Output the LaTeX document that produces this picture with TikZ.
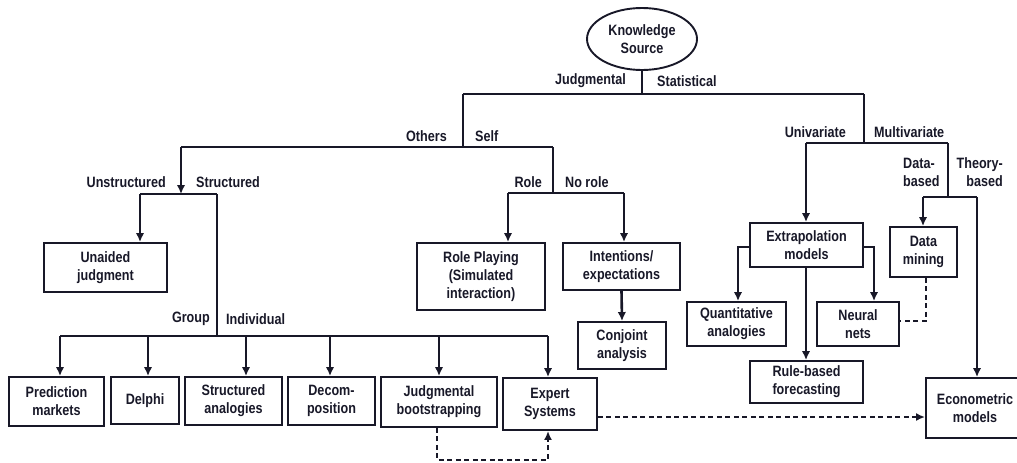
\documentclass[tikz,border=0pt]{standalone}
\usepackage{fontspec}
\setmainfont{Liberation Sans}[FakeStretch=0.84]
\usetikzlibrary{arrows.meta,shapes.geometric}
\definecolor{ink}{RGB}{24,24,40}
\tikzset{
  lbl/.style={font=\fontsize{15}{18}\selectfont\bfseries, text=ink, inner sep=0pt},
  box/.style={draw=ink, line width=1.9pt, align=center, inner sep=0pt,
              font=\fontsize{15}{18}\selectfont\bfseries, text=ink},
  tree/.style={draw=ink, line width=2.6pt},
  arr/.style={tree, -{Latex[length=9pt,width=8.5pt]}},
  dashln/.style={draw=ink, line width=2pt, dash pattern=on 5pt off 3.5pt},
  darr/.style={dashln, -{Latex[length=9pt,width=8pt]}},
}
\begin{document}
\begin{tikzpicture}[x=1pt,y=-1pt]
\useasboundingbox (0,0) rectangle (1017,463);
\clip (0,0) rectangle (1017,463);

% root
\node[draw=ink, line width=1.9pt, ellipse, minimum width=110pt, minimum height=62pt,
      align=center, inner sep=0pt, font=\fontsize{15}{18}\selectfont\bfseries, text=ink]
      (ks) at (642,39) {Knowledge\\Source};

% boxes
\node[box, minimum width=123pt, minimum height=49pt] (unaided) at (105.5,267.5) {Unaided\\judgment};
\node[box, minimum width=128pt, minimum height=67pt] (role) at (481,276.5) {Role Playing\\(Simulated\\interaction)};
\node[box, minimum width=117pt, minimum height=47pt] (intent) at (621.5,266.5) {Intentions/\\expectations};
\node[box, minimum width=88pt, minimum height=47pt] (conjoint) at (622,345.5) {Conjoint\\analysis};
\node[box, minimum width=113pt, minimum height=44pt] (extrap) at (806.5,245) {Extrapolation\\models};
\node[box, minimum width=67pt, minimum height=50pt] (dmine) at (923.5,252) {Data\\mining};
\node[box, minimum width=99pt, minimum height=44pt] (quant) at (736.5,324) {Quantitative\\analogies};
\node[box, minimum width=82pt, minimum height=44pt] (neural) at (858,324) {Neural\\nets};
\node[box, minimum width=113pt, minimum height=42pt] (rule) at (806.5,382) {Rule-based\\forecasting};
\node[box, minimum width=98pt, minimum height=60pt] (econ) at (975,408) {Econometric\\models};
\node[box, minimum width=95pt, minimum height=49pt] (pred) at (56.5,401.5) {Prediction\\markets};
\node[box, minimum width=68pt, minimum height=47pt] (delphi) at (145,400.5) {Delphi};
\node[box, minimum width=97pt, minimum height=48pt] (sanal) at (233.5,401) {Structured\\analogies};
\node[box, minimum width=87pt, minimum height=48pt] (decomp) at (331.5,401) {Decom-\\position};
\node[box, minimum width=116pt, minimum height=50pt] (boot) at (439,402) {Judgmental\\bootstrapping};
\node[box, minimum width=94pt, minimum height=52pt] (expert) at (550,404) {Expert\\Systems};

% junction points
\coordinate (jRoot) at (642,94);
\coordinate (jJudg) at (463,94);
\coordinate (jStat) at (864,94);
\coordinate (jOS) at (463,147);
\coordinate (jOth) at (181,147);
\coordinate (jSelf) at (553,147);
\coordinate (jUS) at (181,194);
\coordinate (jUn) at (140,194);
\coordinate (jSt) at (217,194);
\coordinate (jGI) at (217,336);
\coordinate (jG0) at (60,336);
\coordinate (jG1) at (148,336);
\coordinate (jG2) at (246,336);
\coordinate (jG3) at (330,336);
\coordinate (jG4) at (439,336);
\coordinate (jG5) at (548,336);
\coordinate (jRN) at (553,193);
\coordinate (jRole) at (508,193);
\coordinate (jNoRole) at (624,193);
\coordinate (jUM) at (864,143);
\coordinate (jUni) at (806,143);
\coordinate (jMul) at (948,143);
\coordinate (jDT) at (948,197);
\coordinate (jData) at (923,197);
\coordinate (jTheo) at (977,197);
\coordinate (jExL) at (738,247);
\coordinate (jExR) at (874,247);
\coordinate (jBotDn) at (437,460);
\coordinate (jBotUp) at (548,460);
\coordinate (jDmDn) at (926,321);

% judgmental / statistical split
\draw[tree] (ks.south) -- (jRoot);
\draw[tree] (jJudg) -- (jStat);

% others / self
\draw[tree] (jJudg) -- (jOS);
\draw[tree] (jOth) -- (jSelf);
\draw[arr] (jOth) -- (jUS);
\draw[tree] (jUn) -- (jSt);
\draw[arr] (jUn) -- (jUn |- unaided.north);
\draw[tree] (jSt) -- (jGI);
\draw[tree] (jG0) -- (jG5);
\draw[arr] (jG0) -- (jG0 |- pred.north);
\draw[arr] (jG1) -- (jG1 |- delphi.north);
\draw[arr] (jG2) -- (jG2 |- sanal.north);
\draw[arr] (jG3) -- (jG3 |- decomp.north);
\draw[arr] (jG4) -- (jG4 |- boot.north);
\draw[arr] (jG5) -- (jG5 |- expert.north);

% role / no role
\draw[tree] (jSelf) -- (jRN);
\draw[tree] (jRole) -- (jNoRole);
\draw[arr] (jRole) -- (jRole |- role.north);
\draw[arr] (jNoRole) -- (jNoRole |- intent.north);
\draw[arr] (intent.south) -- (conjoint.north);

% statistical side
\draw[tree] (jStat) -- (jUM);
\draw[tree] (jUni) -- (jMul);
\draw[arr] (jUni) -- (jUni |- extrap.north);
\draw[tree] (jMul) -- (jDT);
\draw[tree] (jData) -- (jTheo);
\draw[arr] (jData) -- (jData |- dmine.north);
\draw[arr] (jTheo) -- (jTheo |- econ.north);
\draw[arr] (extrap.west |- jExL) -- (jExL) -- (jExL |- quant.north);
\draw[arr] (extrap.east |- jExR) -- (jExR) -- (jExR |- neural.north);
\draw[arr] (extrap.south -| jUni) -- (jUni |- rule.north);

% dashed links
\draw[dashln] (dmine.south -| jDmDn) -- (jDmDn) -- (neural.east |- jDmDn);
\draw[darr] (expert.east |- 0,417) -- (econ.west |- 0,417);
\draw[darr] (boot.south -| jBotDn) -- (jBotDn) -- (jBotUp) -- (jBotUp |- expert.south);

% branch labels
\node[lbl, anchor=east] at (626,81) {Judgmental};
\node[lbl, anchor=west] at (657,81) {Statistical};
\node[lbl, anchor=east] at (447,136) {Others};
\node[lbl, anchor=west] at (475,136) {Self};
\node[lbl, anchor=east] at (166,182) {Unstructured};
\node[lbl, anchor=west] at (196,182) {Structured};
\node[lbl, anchor=east] at (542,182) {Role};
\node[lbl, anchor=west] at (565,182) {No role};
\node[lbl, anchor=east] at (210,319) {Group};
\node[lbl, anchor=west] at (226,319) {Individual};
\node[lbl, anchor=east] at (846,132) {Univariate};
\node[lbl, anchor=west] at (874,132) {Multivariate};
\node[lbl, anchor=west, align=left] at (903,172) {Data-\\based};
\node[lbl, anchor=east, align=right] at (1003,172) {Theory-\\based};
\end{tikzpicture}
\end{document}
